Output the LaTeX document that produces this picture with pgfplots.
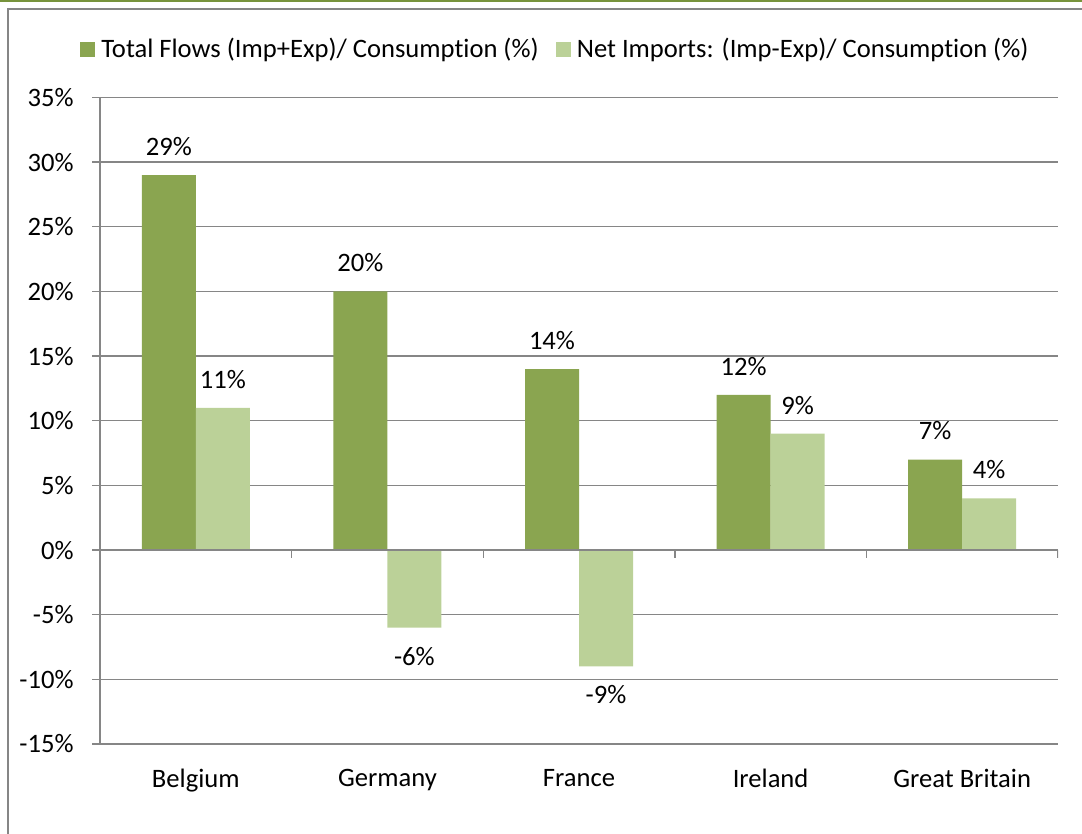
\documentclass[border=0pt]{standalone}
\usepackage{pgfplots}
\pgfplotsset{compat=1.18}
\usepackage{fontspec}
\setmainfont{Carlito}[Ligatures={NoCommon,NoContextual,NoRare}]
\definecolor{barA}{RGB}{138,165,80}
\definecolor{barB}{RGB}{187,209,152}
\definecolor{gridc}{RGB}{134,134,134}
\definecolor{topg}{RGB}{119,147,60}
\begin{document}
\fontsize{13.3pt}{16pt}\selectfont
\begin{tikzpicture}
\useasboundingbox (0,0) rectangle (541pt,417pt);
\fill[topg] (0,416pt) rectangle (541pt,417pt);
\draw[gridc, line width=0.9pt] (4pt,0) -- (4pt,412.5pt) -- (541pt,412.5pt);
\begin{axis}[at={(50pt,45pt)}, anchor=south west, scale only axis,
  width=479pt, height=323.25pt,
  ybar=0pt, bar width=27pt,
  xmin=-0.5, xmax=4.5, ymin=-15, ymax=35,
  xtick={0,...,4}, xticklabels={Belgium,Germany,France,Ireland,Great Britain},
  ytick={-15,-10,...,35},
  yticklabel={\pgfmathprintnumber[assume math mode=true]{\tick}\%},
  axis x line=bottom, axis y line=left,
  axis line style={-, gridc, line width=0.7pt},
  ymajorgrids, major grid style={gridc, line width=0.7pt},
  xtick style={draw=none},
  ytick style={gridc, line width=0.7pt},
  tick align=outside, major tick length=4pt,
  xticklabel style={yshift=-4pt},
  yticklabel style={xshift=-4.6pt},
  nodes near coords={\pgfmathprintnumber[assume math mode=true]{\pgfplotspointmeta}\%},
  every node near coord/.append style={inner sep=9.5pt, text=black},
  legend image code/.code={\path[#1, draw=none] (0pt,-3.75pt) rectangle (7.5pt,3.75pt);},
  legend columns=2,
  legend style={at={(-0.0209,1.0742)}, anchor=west, draw=none, fill=none, inner sep=0pt,
    /tikz/every odd column/.append style={column sep=3pt},
    /tikz/every even column/.append style={column sep=8.5pt},
    nodes={inner sep=0pt}},
  legend cell align=left,
]
\addplot[fill=barA, draw=none] coordinates {(0,29) (1,20) (2,14) (3,12) (4,7)};
\addplot[fill=barB, draw=none] coordinates {(0,11) (1,-6) (2,-9) (3,9) (4,4)};
\legend{Total Flows (Imp+Exp)/ Consumption (\%), Net Imports: (Imp-Exp)/ Consumption (\%)}
\draw[gridc, line width=0.7pt] (axis cs:-0.5,0) -- (axis cs:4.5,0);
\pgfplotsinvokeforeach{0.5,1.5,2.5,3.5,4.5}{
  \draw[gridc, line width=0.7pt] (axis cs:#1,0) -- ([yshift=-4pt]axis cs:#1,0);
}
\end{axis}
\end{tikzpicture}
\end{document}
